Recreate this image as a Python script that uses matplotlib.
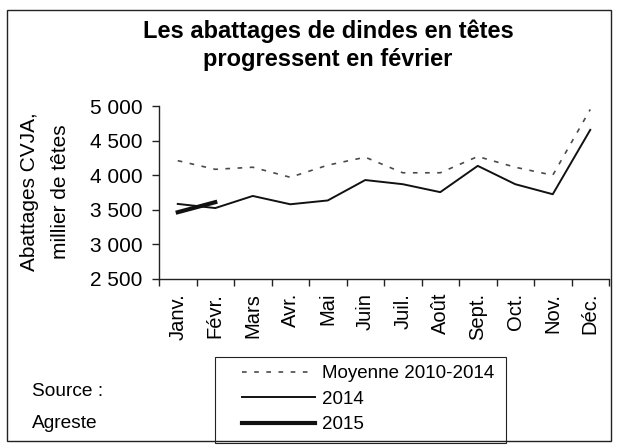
import matplotlib.pyplot as plt
import matplotlib.patches as patches
import numpy as np

plt.rcParams['font.family'] = ['Liberation Sans', 'DejaVu Sans']

months   = ["Janv.", "Févr.", "Mars", "Avr.", "Mai", "Juin",
            "Juil.", "Août", "Sept.", "Oct.", "Nov.", "Déc."]
moyenne  = [4210, 4085, 4115, 3970, 4145, 4260, 4035, 4035, 4270, 4115, 4000, 4950]
val_2014 = [3585, 3525, 3700, 3580, 3635, 3930, 3870, 3755, 4135, 3870, 3725, 4655]
val_2015 = [3465, 3610]
y_ticks  = [2500, 3000, 3500, 4000, 4500, 5000]

W, H = 621, 446
fig = plt.figure(figsize=(W/100, H/100), dpi=100)
ax  = fig.add_axes([159/W, 1 - 279/H, 450/W, 173/H])

x = np.arange(len(months))
ax.plot(x, moyenne, color="#4a4a4a", linewidth=1.2, dashes=(2.8, 4.5), label="Moyenne 2010-2014")
ax.plot(x, val_2014, color="#111111", linewidth=1.4, label="2014")
ax.plot(x[:len(val_2015)], val_2015, color="#111111", linewidth=3.0, label="2015")

ax.set_xlim(-0.5, 11.5)
ax.set_ylim(2500, 5000)
ax.set_yticks(y_ticks)
ax.set_yticklabels([f"{v:,}".replace(",", " ") for v in y_ticks], fontsize=15)
ax.set_xticks(np.arange(-0.5, 12, 1))
ax.set_xticklabels([])
ax.set_xticks(x, minor=True)
ax.set_xticklabels(months, minor=True, rotation=90, fontsize=14.5, va="top")
ax.tick_params(axis="x", which="minor", length=0, pad=10)
ax.tick_params(axis="x", which="major", length=5, width=1, color="#222222", direction="out")
ax.tick_params(axis="y", length=5, width=1, color="#222222", pad=7)

for side in ["top", "right"]:
    ax.spines[side].set_visible(False)
for side in ["left", "bottom"]:
    ax.spines[side].set_color("#222222")
    ax.spines[side].set_linewidth(1.0)

fig.text(45/W, 1 - 192/H, "Abattages CVJA,\nmillier de têtes", rotation=90,
         ha="center", va="center", fontsize=15, linespacing=1.75)

fig.text(328/W, 1 - 45/H, "Les abattages de dindes en têtes\nprogressent en février",
         ha="center", va="center", fontsize=17, fontweight="bold", linespacing=1.3)

fig.text(32/W, 1 - 391/H, "Source :", fontsize=13.8, va="center")
fig.text(32/W, 1 - 423/H, "Agreste", fontsize=13.8, va="center")

# outer frame and legend frame
fig.patches.append(patches.Rectangle((7/W, 1 - 441/H), 604/W, 431/H, transform=fig.transFigure,
                                     fill=False, edgecolor="#222222", linewidth=1.0))
fig.patches.append(patches.Rectangle((215/W, 1 - 443/H), 291/W, 86/H, transform=fig.transFigure,
                                     fill=False, edgecolor="#222222", linewidth=0.8))

fig.legend(loc="upper left", bbox_to_anchor=(242/W, 1 - 365/H), frameon=False,
           fontsize=13.5, handlelength=3.9, handletextpad=0.35, labelspacing=0.45,
           borderpad=0, borderaxespad=0)

plt.savefig("out.png", dpi=100)
